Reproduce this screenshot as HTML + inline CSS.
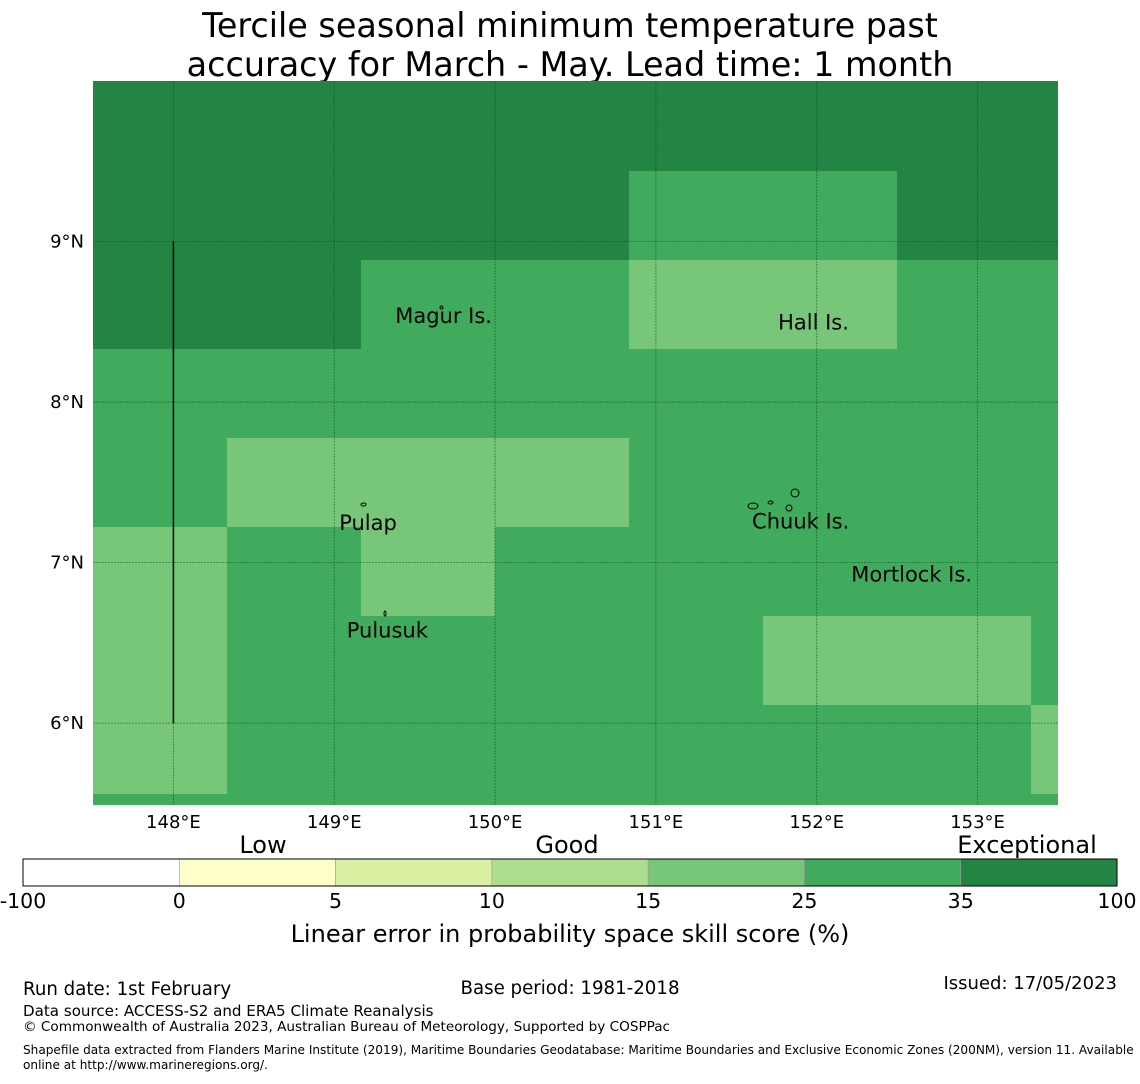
<!DOCTYPE html>
<html><head><meta charset="utf-8"><style>
body{margin:0;background:#fff;width:1140px;height:1080px;overflow:hidden;font-family:"DejaVu Sans","Liberation Sans",sans-serif}
svg text{font-family:"DejaVu Sans","Liberation Sans",sans-serif}
</style></head><body>
<svg id="chart" width="1140" height="1080">
<text x="570" y="37" font-size="33.4" text-anchor="middle">Tercile seasonal minimum temperature past</text>
<text x="570" y="76" font-size="33.4" text-anchor="middle">accuracy for March - May. Lead time: 1 month</text>
<g id="map"></g>
<g id="cbar"></g>
<text x="263" y="853" font-size="24" text-anchor="middle">Low</text>
<text x="567" y="853" font-size="24" text-anchor="middle">Good</text>
<text x="1027" y="853" font-size="24" text-anchor="middle">Exceptional</text>
<text x="570" y="942" font-size="24" text-anchor="middle">Linear error in probability space skill score (%)</text>
<text x="23" y="995" font-size="18.2">Run date: 1st February</text>
<text x="570" y="994" font-size="18.2" text-anchor="middle">Base period: 1981-2018</text>
<text x="1117" y="989" font-size="18" text-anchor="end">Issued: 17/05/2023</text>
<text x="23" y="1016" font-size="15.1">Data source: ACCESS-S2 and ERA5 Climate Reanalysis</text>
<text x="23" y="1031" font-size="13.6">© Commonwealth of Australia 2023, Australian Bureau of Meteorology, Supported by COSPPac</text>
<text x="23" y="1054" font-size="12.1">Shapefile data extracted from Flanders Marine Institute (2019), Maritime Boundaries Geodatabase: Maritime Boundaries and Exclusive Economic Zones (200NM), version 11. Available</text>
<text x="23" y="1069" font-size="12.1">online at http://www.marineregions.org/.</text>
</svg>
<script>
const lonTicks=[148,149,150,151,152,153];
const latTicks=[9,8,7,6];
// cell levels: 0=35-100 (dark), 1=25-35, 2=15-25
const cellRows=[
[0,0,0,0,0,0,0,0],
[0,0,0,0,1,1,0,0],
[0,0,1,1,2,2,1,1],
[1,1,1,1,1,1,1,1],
[1,2,2,2,1,1,1,1],
[2,1,2,1,1,1,1,1],
[2,1,1,1,1,2,2,1],
[2,1,1,1,1,1,1,2],
[1,1,1,1,1,1,1,1]];
const levelColors=["#238443","#41ab5d","#78c679"];
const cbarLabels=["-100","0","5","10","15","25","35","100"];
const cbarColors=["#ffffff","#ffffcc","#d9f0a3","#addd8e","#78c679","#41ab5d","#238443"];
const islands=[["Magur Is.",149.68,8.53],["Hall Is.",151.98,8.49],["Pulap",149.21,7.24],["Pulusuk",149.33,6.57],["Chuuk Is.",151.9,7.25],["Mortlock Is.",152.59,6.92]];

const NS="http://www.w3.org/2000/svg";
const X0=93,X1=1058,Y0=81,Y1=805;
const lonMin=147.5,lonMax=153.5,latMax=10.0,latMin=5.49;
const xs=l=>X0+(l-lonMin)/(lonMax-lonMin)*(X1-X0);
const ys=l=>Y0+(latMax-l)/(latMax-latMin)*(Y1-Y0);
function mk(t,a,p){const e=document.createElementNS(NS,t);for(const k in a)e.setAttribute(k,a[k]);p.appendChild(e);return e;}
const map=document.getElementById('map');
const defs=mk('defs',{},map);
const cp=mk('clipPath',{id:'clip'},defs);
mk('rect',{x:X0,y:Y0,width:X1-X0,height:Y1-Y0},cp);
const cells=mk('g',{'clip-path':'url(#clip)'},map);
const cw=134,ch=89,cx0=93,cy0=82;
cellRows.forEach((row,r)=>row.forEach((v,c)=>{
 const e=mk('rect',{x:cx0+c*cw,y:(r==0?Y0:cy0+r*ch),width:cw+0.5,height:(r==0?ch+1:ch+0.5),fill:levelColors[v]},cells);
 
 
}));
lonTicks.forEach(l=>{
 const x=xs(l);
 const g=mk('line',{x1:x,x2:x,y1:Y0,y2:Y1,stroke:'#0b4a1f','stroke-width':0.8,'stroke-dasharray':'2,1','stroke-opacity':0.6},map);
 
 
 const t=mk('text',{x:x,y:828,'font-size':18,'text-anchor':'middle'},map);
 t.textContent=l+'°E';
 
 
});
latTicks.forEach(l=>{
 const y=ys(l);
 const g=mk('line',{x1:X0,x2:X1,y1:y,y2:y,stroke:'#0b4a1f','stroke-width':0.8,'stroke-dasharray':'2,1','stroke-opacity':0.6},map);
 
 
 const t=mk('text',{x:84,y:y+6,'font-size':18,'text-anchor':'end'},map);
 t.textContent=l+'°N';
 
 
});
const bl=mk('line',{x1:xs(148),x2:xs(148),y1:ys(9),y2:ys(6),stroke:'#000','stroke-width':1.5},map);


[[791,489,8,8],[748,503,10,6],[786,505,6,6],[361,503,5,3],[384,611,2,5],[440,306,3,3],[768,501,5,3]].forEach(s=>{
 const e=mk('ellipse',{cx:s[0]+s[2]/2,cy:s[1]+s[3]/2,rx:s[2]/2,ry:s[3]/2,fill:'none',stroke:'#000','stroke-width':1},map);
 
 
});
islands.forEach(d=>{
 const t=mk('text',{x:xs(d[1]),y:ys(d[2])+6,'font-size':21,'text-anchor':'middle'},map);
 t.textContent=d[0];
 
 
});
const cb=document.getElementById('cbar');
const BX0=23,BX1=1117,BY=859,BH=27,sw=(BX1-BX0)/cbarColors.length;
cbarColors.forEach((c,i)=>{
 const e=mk('rect',{x:BX0+i*sw,y:BY,width:sw,height:BH,fill:c,stroke:'#999','stroke-width':0.6},cb);
 
 
});
mk('rect',{x:BX0,y:BY,width:BX1-BX0,height:BH,fill:'none',stroke:'#000','stroke-width':1},cb);
cbarLabels.forEach((l,i)=>{
 const t=mk('text',{x:BX0+i*sw,y:908,'font-size':20.5,'text-anchor':'middle'},cb);
 t.textContent=l;
 
 
});
</script>
</body></html>
